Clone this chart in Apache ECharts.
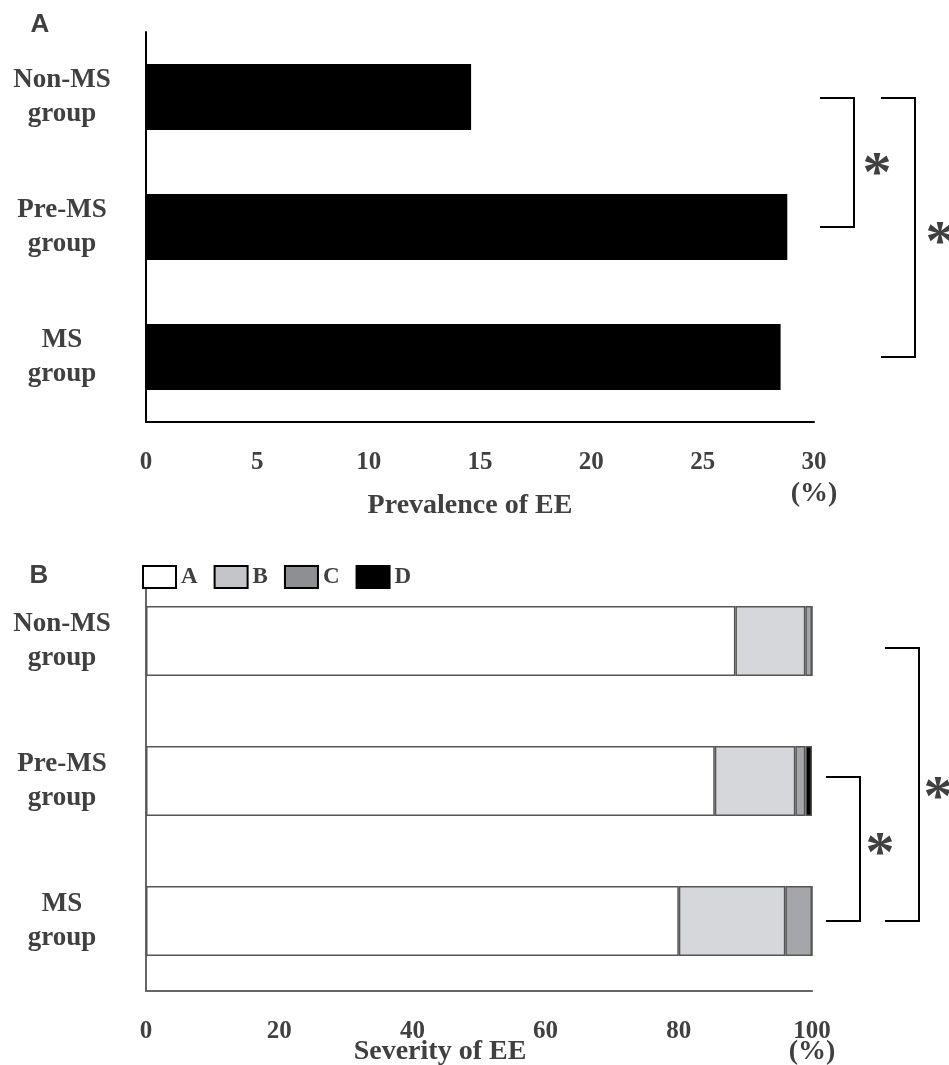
<!DOCTYPE html>
<html><head><meta charset="utf-8">
<script src="https://cdn.jsdelivr.net/npm/echarts@6/dist/echarts.min.js"></script>
<style>html,body{margin:0;padding:0;background:#fff}#c{width:949px;height:1065px}</style>
</head><body><div id="c"></div>
<script>
var categories = ['Non-MS\ngroup', 'Pre-MS\ngroup', 'MS\ngroup'];
var prevalence = [14.6, 28.8, 28.5];
var prevTicks = [0, 5, 10, 15, 20, 25, 30];
var sevA = [88.5, 85.4, 80.0];
var sevB = [10.5, 12.1, 16.0];
var sevC = [1.0, 1.5, 4.0];
var sevD = [0, 1.0, 0];
var severityNames = ['A', 'B', 'C', 'D'];
var sevTicks = [0, 20, 40, 60, 80, 100];

var serif = '"Liberation Serif", "Times New Roman", serif';
var txt = '#404040';
var chart = echarts.init(document.getElementById('c'), null, {renderer: 'canvas'});
var catLabel = {fontFamily: serif, fontWeight: 'bold', fontSize: 27, color: txt, align: 'center', margin: 84, lineHeight: 34, padding: [6, 0, 0, 0]};
var tickLabel = {fontFamily: serif, fontWeight: 'bold', fontSize: 25, color: txt, margin: 28};
var segColors = ['#ffffff', '#d6d7db', '#a5a6aa', '#000000'];
var legendColors = ['#ffffff', '#c4c5c9', '#8e8f93', '#000000'];
var sevData = [sevA, sevB, sevC, sevD];

chart.setOption({
  animation: false,
  legend: {
    left: 137, top: 560, icon: 'rect', itemWidth: 33, itemHeight: 22, itemGap: 16,
    data: severityNames.map(function (n, i) { return {name: n, itemStyle: {color: legendColors[i], borderColor: '#000', borderWidth: 2}}; }),
    textStyle: {fontFamily: serif, fontWeight: 'bold', fontSize: 23, color: txt}
  },
  grid: [
    {left: 146, right: 135, top: 32, bottom: 643},
    {left: 146, right: 137, top: 571, bottom: 74}
  ],
  xAxis: [
    {gridIndex: 0, type: 'value', min: prevTicks[0], max: prevTicks[prevTicks.length - 1], interval: 5,
     axisLine: {show: true, lineStyle: {color: '#000', width: 2}}, axisTick: {show: false},
     splitLine: {show: false}, axisLabel: tickLabel},
    {gridIndex: 1, type: 'value', min: sevTicks[0], max: sevTicks[sevTicks.length - 1], interval: 20,
     axisLine: {show: true, lineStyle: {color: '#666', width: 2}}, axisTick: {show: false},
     splitLine: {show: false}, axisLabel: tickLabel}
  ],
  yAxis: [
    {gridIndex: 0, type: 'category', data: categories, inverse: true,
     axisLine: {show: true, lineStyle: {color: '#000', width: 2}}, axisTick: {show: false}, axisLabel: catLabel},
    {gridIndex: 1, type: 'category', data: categories, inverse: true,
     axisLine: {show: true, lineStyle: {color: '#666', width: 2}}, axisTick: {show: false}, axisLabel: catLabel}
  ],
  series: [
    {type: 'bar', xAxisIndex: 0, yAxisIndex: 0, data: prevalence, barWidth: 66,
     itemStyle: {color: '#000'}, silent: true}
  ].concat(severityNames.map(function (n, i) {
    return {type: 'bar', name: n, stack: 'sev', xAxisIndex: 1, yAxisIndex: 1, data: sevData[i], barWidth: 70,
      itemStyle: {color: segColors[i], borderColor: '#555', borderWidth: 1.5}, silent: true};
  }))
});

function px(axisIdx, cat) { return chart.convertToPixel({yAxisIndex: axisIdx}, cat); }
function bracket(x0, x1, y1, y2) {
  return {type: 'polyline', shape: {points: [[x0, y1], [x1, y1], [x1, y2], [x0, y2]]},
    style: {stroke: '#000', lineWidth: 2, fill: null}};
}
function star(x, y) {
  return {type: 'text', x: x, y: y, style: {text: '*', font: 'bold 58px ' + serif, fill: txt, align: 'center', verticalAlign: 'middle'}};
}
function label(x, y, t, font, align) {
  return {type: 'text', x: x, y: y, style: {text: t, font: font, fill: txt, align: align || 'center', verticalAlign: 'middle'}};
}
var a0 = px(0, categories[0]), a1 = px(0, categories[1]), a2 = px(0, categories[2]);
var b0 = px(1, categories[0]), b1 = px(1, categories[1]), b2 = px(1, categories[2]);
var boldSerif = 'bold 28px ' + serif;
var sans = 'bold 26px "Liberation Sans", Arial, sans-serif';
chart.setOption({
  graphic: [
    bracket(820, 854, a0 + 1, a1),
    star(877, a0 + 79),
    bracket(881, 915, a0 + 1, a2),
    star(940, a0 + 148),
    bracket(885, 919, b0 + 7, b2),
    star(938, b0 + 159),
    bracket(826, 860, b1 - 4, b2),
    star(880, b1 + 75),
    label(40, 25, 'A', sans),
    label(39, 576, 'B', sans),
    label(470, 506, 'Prevalence of EE', boldSerif),
    label(814, 494, '(%)', boldSerif),
    label(440, 1052, 'Severity of EE', boldSerif),
    label(812, 1052, '(%)', boldSerif)
  ]
});
</script></body></html>
